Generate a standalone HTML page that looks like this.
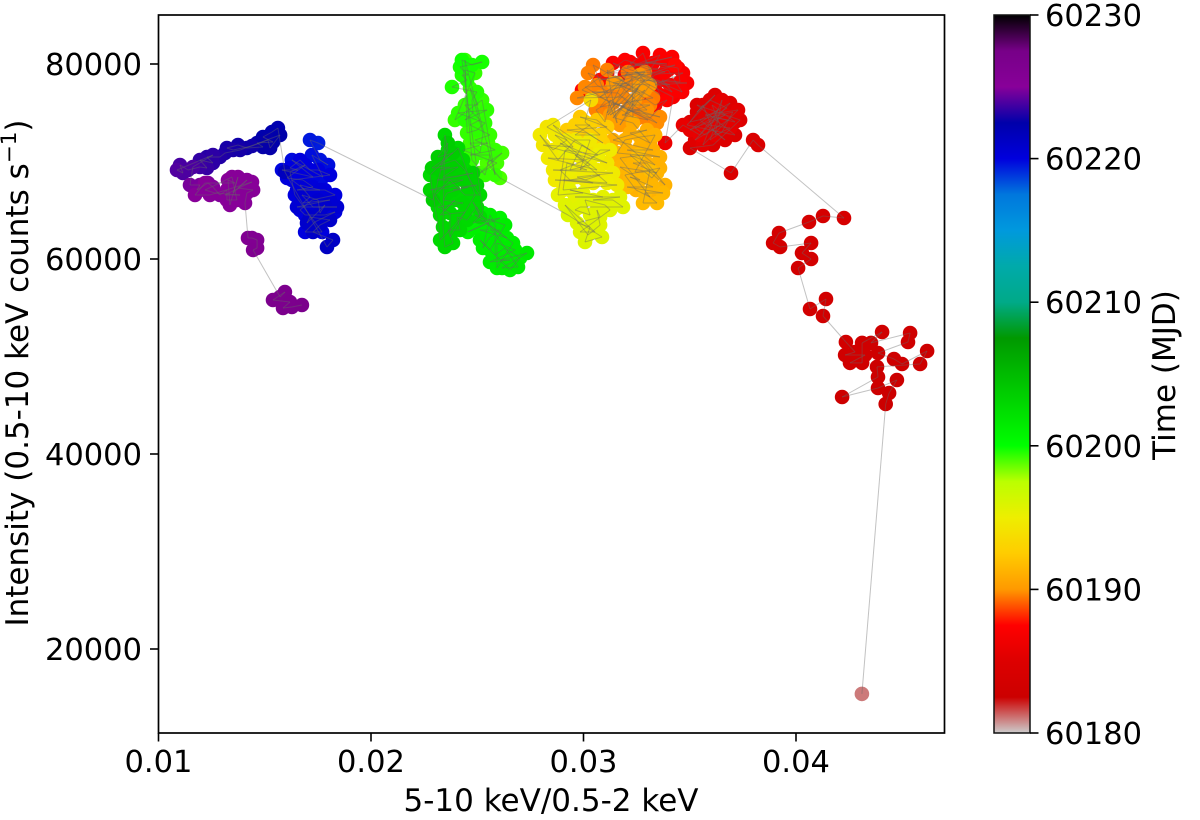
<!DOCTYPE html>
<html lang="en">
<head>
<meta charset="utf-8">
<title>Hardness-intensity diagram</title>
<style>
html,body{margin:0;padding:0;background:#fff;}
svg{display:block;}
text{font-family:"DejaVu Sans","Liberation Sans",sans-serif;fill:#000;}
</style>
</head>
<body>
<svg id="chart" xmlns="http://www.w3.org/2000/svg" width="1200" height="820" viewBox="0 0 1200 820">
  <defs><linearGradient id="cbar-grad" x1="0" y1="0" x2="0" y2="1"></linearGradient></defs>
  <rect x="158.5" y="15" width="786" height="718" fill="#fff"/>
  <g id="points"></g>
  <g id="links"></g>
  <rect x="158.5" y="15" width="786" height="718" fill="none" stroke="#000" stroke-width="1.7"/>
  <g id="x-axis"></g>
  <g id="y-axis"></g>
  <text x="551" y="811" font-size="31" text-anchor="middle">5-10 keV/0.5-2 keV</text>
  <text transform="translate(28,373) rotate(-90)" font-size="31" text-anchor="middle">Intensity (0.5-10 keV counts s<tspan dy="-12" font-size="21.5">−1</tspan><tspan dy="12">)</tspan></text>
  <rect x="994" y="15" width="36" height="718" fill="url(#cbar-grad)"/>
  <rect x="994" y="15" width="36" height="718" fill="none" stroke="#111" stroke-width="1.5"/>
  <g id="c-axis"></g>
  <text transform="translate(1175,375) rotate(-90)" font-size="31" text-anchor="middle">Time (MJD)</text>
</svg>
<script>
const xTicks = [0.01, 0.02, 0.03, 0.04];
const yTicks = [20000, 40000, 60000, 80000];
const timeTicks = [60180, 60190, 60200, 60210, 60220, 60230];

const hardnessRatio = [
  0.0431,
  0.04422,0.04438,0.04475,0.04386,0.04217,0.04386,0.04381,0.04584,0.04617,0.04499,
  0.04461,0.04386,0.04527,0.04537,0.04353,0.04405,0.04311,0.04311,0.04254,0.04325,
  0.04231,0.04278,0.04235,
  0.04127,0.04141,0.04066,0.04010,0.04071,0.04028,0.04071,0.03925,0.03892,0.03920,
  0.04061,0.04127,0.04226,
  0.03821,0.03798,0.03694,0.03501,0.03610,0.03737,0.03534,0.03713,0.03487,0.03619,
  0.03534,0.03595,0.03675,0.03605,0.03525,0.03572,0.03680,0.03633,0.03595,0.03652,
  0.03703,0.03501,0.03562,0.03610,
  0.03666,0.03548,0.03690,0.03525,0.03642,0.03605,0.03713,0.03572,0.03727,0.03562,
  0.03652,0.03619,0.03690,0.03586,0.03666,0.03501,0.03633,0.03548,0.03468,0.03384,
  0.03421,0.03266,0.03487,0.03337,0.03468,0.03195,0.03407,0.03139,0.03360,0.03280,
  0.03205,0.03327,0.03393,0.03289,0.03445,0.03454,0.03369,0.03417,0.03242,0.03464,
  0.03398,0.03337,0.03289,0.03219,
  0.03313,0.03360,0.03242,0.03417,0.03111,0.03384,0.03195,0.02993,0.03313,0.03393,
  0.03337,0.03266,0.03172,0.03431,0.03078,
  0.03289,0.03111,0.03209,0.03078,0.03327,0.03045,0.03158,0.03111,0.03266,0.03021,
  0.03063,0.03115,0.03040,0.03163,0.03219,0.03266,0.03313,0.03181,0.03257,0.03304,
  0.03125,0.03101,0.03059,0.03289,0.03139,0.03266,0.03115,0.03228,
  0.03233,0.03007,0.03219,0.02970,0.03186,0.03346,0.03139,0.03360,0.03205,0.03299,
  0.03158,0.03078,0.03266,0.03139,0.03313,0.03172,0.03242,0.03125,0.03289,0.03195,
  0.03257,0.03148,
  0.03233,0.03313,0.03219,0.03299,0.03139,0.03266,0.03327,0.03205,0.03360,0.03158,
  0.03195,0.03266,0.03337,0.03242,0.03289,0.03322,0.03360,0.03195,0.03247,0.03313,
  0.03172,0.03280,0.03337,0.03219,0.03384,
  0.03299,0.03233,0.03346,0.03172,0.03266,0.03219,0.03327,0.03205,0.03374,0.03289,
  0.03346,0.03280,0.03313,0.03257,
  0.03063,0.02984,0.03111,0.02922,0.03016,0.03092,0.02960,0.03031,0.02960,0.03078,0.03007,0.03035,
  0.02828,0.03031,0.02857,0.02951,0.02810,0.03111,0.02890,0.02998,0.02833,0.03063,
  0.02866,0.02922,0.02857,0.02795,0.02880,0.02960,0.03031,0.02984,0.03078,0.03125,
  0.02890,0.02936,0.03078,0.03007,0.02866,0.03158,0.02904,
  0.02922,0.03016,0.02857,0.03139,0.02970,0.03045,0.02904,0.03111,0.02960,0.03031,
  0.02936,0.02993,0.03068,0.02913,
  0.02880,0.02998,0.02936,0.03092,0.02960,0.03172,0.03045,0.03139,0.03186,0.02984,
  0.02960,0.03031,0.03007,0.03101,0.03125,0.02984,0.03054,0.02913,0.03021,0.03078,
  0.03063,0.03078,0.02970,0.03031,0.03007,0.03087,0.02927,
  0.02607,0.02546,0.02617,0.02513,0.02593,0.02433,0.02551,0.02466,0.02513,0.02527,
  0.02466,0.02504,0.02442,0.02513,0.02466,0.02560,0.02490,0.02584,0.02466,0.02560,
  0.02537,0.02475,0.02442,0.02490,0.02395,0.02523,0.02584,0.02442,
  0.02452,0.02499,0.02537,0.02410,0.02546,0.02442,0.02480,0.02475,0.02499,0.02381,
  0.02452,0.02428,0.02457,0.02419,0.02523,0.02475,0.02428,
  0.02527,0.02480,0.02607,0.02456,0.02546,0.02640,0.02513,0.02607,0.02560,0.02527,
  0.02560,0.02584,0.02584,0.02631,0.02701,0.02654,0.02513,0.02560,0.02631,0.02490,
  0.02668,0.02593,
  0.02593,0.02678,0.02560,0.02654,0.02607,0.02734,0.02617,0.02692,
  0.02480,0.02513,0.02499,0.02452,0.02405,0.02419,0.02362,0.02386,0.02348,0.02339,
  0.02348,0.02362,0.02325,0.02395,0.02442,0.02466,0.02513,0.02442,0.02372,0.02301,
  0.02348,0.02395,0.02325,0.02442,0.02395,0.02325,0.02278,0.02348,0.02410,0.02433,
  0.02490,0.02372,
  0.02372,0.02315,0.02433,0.02339,0.02358,0.02457,0.02386,0.02499,0.02278,0.02334,
  0.02433,0.02310,0.02480,0.02395,0.02339,0.02410,0.02325,0.02372,0.02287,0.02386,
  0.02315,0.02362,0.02292,
  0.01751,0.01713,0.01760,0.01798,0.01722,0.01774,0.01628,0.01727,0.01581,0.01656,
  0.01619,0.01666,0.01713,0.01751,0.01807,0.01628,0.01690,0.01783,0.01831,0.01722,
  0.01666,0.01690,0.01783,0.01831,0.01736,0.01690,0.01770,0.01642,0.01619,
  0.01690,0.01605,0.01680,0.01727,0.01652,0.01760,0.01666,0.01713,0.01680,0.01807,
  0.01652,0.01840,0.01727,0.01675,0.01751,0.01760,0.01783,0.01699,0.01713,0.01807,
  0.01760,0.01727,0.01821,0.01793,0.01595,
  0.01562,0.01534,0.01492,0.01539,0.01464,0.01492,0.01416,0.01374,0.01322,0.01351,
  0.01440,0.01515,0.01525,0.01572,0.01384,0.01313,
  0.01289,0.01228,0.01256,0.01195,0.01228,0.01195,0.01139,0.01101,0.01115,0.01087,
  0.01256,0.01162,
  0.01148,0.01195,0.01181,0.01233,0.01256,0.01289,0.01322,0.01322,0.01369,0.01346,
  0.01219,0.01266,0.01384,0.01313,0.01407,0.01440,0.01242,0.01172,0.01219,0.01360,
  0.01327,0.01336,
  0.01374,0.01351,0.01416,0.01374,0.01445,0.01416,0.01407,
  0.01421,0.01440,0.01464,0.01464,0.01445,
  0.01572,0.01595,0.01539,0.01619,0.01586,0.01628,0.01675
];

const intensityCounts = [
  15400,
  45130,46260,47590,46770,45850,47900,48930,49230,50560,49230,
  49740,50360,51490,52410,51390,52510,51390,49340,49340,50150,
  50150,50460,51490,
  54155,55899,54873,59078,60001,60616,61642,61232,61642,62668,
  63796,64411,64206,
  71693,72206,68821,71385,71693,74257,75795,72718,73744,76821,
  75077,76308,75487,74462,73436,72718,74257,74462,72206,73026,
  75077,74052,75795,73231,
  72206,74257,76000,72206,73744,75795,74052,74770,75283,71693,
  76308,72718,73437,73744,74770,73231,75283,72718,73744,71898,
  76615,78359,78052,77846,79077,78872,77846,80103,76821,81128,
  79692,80103,80000,80205,79590,78154,78359,77128,79180,77128,
  79385,78872,78154,80205,
  79385,80923,79898,80718,79077,79180,80411,77333,74462,76308,
  75795,76821,77846,79898,78359,
  79180,74975,79180,75590,76513,79898,73949,79385,77026,79077,
  77846,77128,77128,77026,75795,75795,75795,74770,74462,74257,
  76308,74052,75282,78359,74462,77846,74770,78565,
  74565,77641,77846,76513,76615,73949,76000,74565,75283,75283,
  78052,76615,78872,78052,77846,73744,76308,74770,77333,74770,
  77539,74462,
  73949,71898,72923,73231,72206,71488,71180,71180,70462,70872,
  72206,72513,72718,68924,68924,68308,69334,68616,67077,66360,
  70360,70667,69642,70667,67590,
  69847,69847,68821,69437,68103,68411,67385,67385,66770,66770,
  65744,65744,69129,70667,
  74257,74565,73539,73231,72923,71898,73744,73744,72718,72718,74052,76308,
  73539,71180,73744,71488,71693,69847,71898,70154,70359,69129,
  72718,72206,71180,72718,70154,72206,72206,69129,71180,71180,
  69129,68103,68616,68103,68103,67590,67077,
  69847,69129,69129,68821,68411,67795,68103,67795,70667,69642,
  69129,71693,70667,71180,
  66565,66770,67077,66359,66359,66359,66052,66052,65334,65334,
  65026,64514,66052,65539,65026,62770,62770,65539,62462,63488,
  65026,64309,63693,63283,61745,62258,64514,
  68308,69847,70872,68821,69847,71180,71898,71898,70872,72923,
  77539,75795,75795,74257,73744,72718,72206,71180,70667,70667,
  68616,70154,79385,79077,74257,76308,68616,80410,
  72923,73231,73949,74975,75283,74257,74975,76308,77129,77641,
  78359,78872,78872,79693,80205,79898,80411,
  64719,63693,64206,62770,63693,62155,62975,62975,62258,61129,
  64514,63488,60411,61129,60104,58873,61950,60924,63488,64514,
  61642,59078,
  61642,60924,59693,59898,59898,60616,59078,59180,
  65847,64309,65334,64001,64309,62975,62975,61642,61232,63283,
  72718,71180,69642,70154,69129,68103,66565,66565,68103,66565,
  65026,66052,64514,64821,63488,61950,68616,70154,71385,70154,
  66565,62258,
  64719,65334,65744,66052,66770,67385,67077,67590,67077,67385,
  68103,68103,68821,68411,68411,69437,69129,69437,69334,70872,
  70462,71898,66052,
  71898,72206,70154,69642,70667,68411,70154,68411,69129,69129,
  69334,70154,69129,69129,68616,68103,67077,67077,66565,66052,
  65026,64514,64514,64821,63796,62770,62770,66565,68924,
  69642,68308,68103,67385,67077,67077,67590,66359,65744,66052,
  65334,65334,65334,66564,66052,64719,65539,63693,64309,64001,
  63488,62770,61950,61232,68924,
  73436,73026,72513,72000,71898,71488,71385,71693,71385,71180,
  71590,72206,71385,72718,71180,70872,
  70462,70462,69847,70154,69334,69437,69129,69642,68821,69129,
  70667,69437,
  67590,67590,67077,67795,67385,66565,67077,66052,66052,68411,
  67077,66770,66565,66565,67590,67898,66565,66565,67795,67795,
  68103,65539,
  68411,66770,68103,67283,67077,66770,65744,
  62155,62155,61950,61129,60924,
  56104,56616,55796,55591,54975,55078,55283
];

const observationMjd = [
  60181.0,
  60182.5,60182.5,60182.5,60182.6,60182.6,60182.6,60182.7,60182.7,60182.7,60182.8,
  60182.8,60182.8,60182.9,60182.9,60182.9,60183.0,60183.0,60183.0,60183.1,60183.1,
  60183.1,60183.2,60183.2,
  60183.3,60183.3,60183.4,60183.4,60183.5,60183.5,60183.6,60183.6,60183.7,60183.7,
  60183.8,60183.8,60183.9,
  60184.4,60184.5,60184.6,60184.7,60184.7,60184.8,60184.8,60184.9,60184.9,60185.0,
  60185.0,60185.0,60185.0,60185.0,60185.0,60185.0,60185.0,60185.0,60185.0,60185.0,
  60185.0,60185.0,60185.0,60185.0,
  60185.0,60185.1,60185.1,60185.2,60185.2,60185.3,60185.3,60185.4,60185.4,60185.5,
  60185.5,60185.6,60185.6,60185.7,60185.7,60185.8,60185.8,60185.9,60185.9,60186.0,
  60186.8,60186.8,60186.9,60186.9,60187.0,60187.0,60187.0,60187.1,60187.1,60187.1,
  60187.1,60187.1,60187.1,60187.1,60187.1,60187.1,60187.1,60187.1,60187.1,60187.1,
  60187.1,60187.1,60187.1,60187.1,
  60187.2,60187.2,60187.2,60187.3,60187.3,60187.3,60187.4,60187.4,60187.4,60187.5,
  60187.5,60187.5,60187.6,60187.6,60187.7,
  60189.4,60189.4,60189.4,60189.5,60189.5,60189.5,60189.5,60189.6,60189.6,60189.6,
  60189.6,60189.6,60189.6,60189.6,60189.6,60189.6,60189.6,60189.6,60189.6,60189.6,
  60189.6,60189.6,60189.6,60189.6,60189.6,60189.6,60189.6,60189.6,
  60189.6,60189.7,60189.7,60189.7,60189.7,60189.8,60189.8,60189.8,60189.8,60189.9,
  60189.9,60189.9,60189.9,60190.0,60190.0,60190.0,60190.0,60190.1,60190.1,60190.1,
  60190.2,60190.2,
  60190.9,60190.9,60191.0,60191.0,60191.0,60191.1,60191.1,60191.1,60191.2,60191.2,
  60191.2,60191.2,60191.2,60191.2,60191.2,60191.2,60191.2,60191.2,60191.2,60191.2,
  60191.2,60191.2,60191.2,60191.2,60191.2,
  60191.2,60191.3,60191.3,60191.3,60191.4,60191.4,60191.4,60191.5,60191.5,60191.5,
  60191.6,60191.6,60191.7,60191.7,
  60192.2,60192.3,60192.4,60192.5,60192.6,60192.7,60192.8,60192.8,60192.8,60192.9,60192.9,60193.5,
  60194.3,60194.3,60194.4,60194.4,60194.4,60194.5,60194.5,60194.5,60194.6,60194.6,
  60194.6,60194.6,60194.6,60194.6,60194.6,60194.6,60194.6,60194.6,60194.6,60194.6,
  60194.6,60194.6,60194.6,60194.6,60194.6,60194.6,60194.6,
  60194.6,60194.7,60194.7,60194.7,60194.8,60194.8,60194.8,60194.9,60194.9,60194.9,
  60195.0,60195.0,60195.0,60195.1,
  60195.4,60195.4,60195.5,60195.5,60195.5,60195.6,60195.6,60195.6,60195.7,60195.7,
  60195.7,60195.7,60195.7,60195.7,60195.7,60195.7,60195.7,60195.7,60195.7,60195.7,
  60195.7,60195.8,60195.8,60195.8,60195.9,60195.9,60196.0,
  60199.0,60199.0,60199.1,60199.1,60199.1,60199.2,60199.2,60199.2,60199.3,60199.3,
  60199.3,60199.3,60199.3,60199.3,60199.3,60199.3,60199.3,60199.3,60199.3,60199.3,
  60199.3,60199.3,60199.3,60199.3,60199.3,60199.3,60199.3,60199.3,
  60199.3,60199.4,60199.4,60199.4,60199.4,60199.5,60199.5,60199.5,60199.5,60199.6,
  60199.6,60199.6,60199.6,60199.7,60199.7,60199.7,60199.8,
  60200.8,60200.9,60200.9,60201.0,60201.0,60201.1,60201.1,60201.2,60201.2,60201.3,
  60201.3,60201.3,60201.3,60201.3,60201.3,60201.3,60201.3,60201.3,60201.3,60201.3,
  60201.3,60201.3,
  60201.3,60201.4,60201.4,60201.5,60201.5,60201.6,60201.6,60201.7,
  60202.6,60202.6,60202.7,60202.7,60202.7,60202.8,60202.8,60202.8,60202.9,60202.9,
  60202.9,60202.9,60202.9,60202.9,60202.9,60202.9,60202.9,60202.9,60202.9,60202.9,
  60202.9,60202.9,60202.9,60202.9,60202.9,60202.9,60202.9,60202.9,60202.9,60202.9,
  60202.9,60202.9,
  60202.9,60203.0,60203.0,60203.0,60203.1,60203.1,60203.1,60203.2,60203.2,60203.2,
  60203.3,60203.3,60203.3,60203.4,60203.4,60203.4,60203.5,60203.5,60203.5,60203.6,
  60203.6,60203.7,60203.7,
  60219.4,60219.5,60219.6,60219.7,60219.7,60219.8,60219.8,60219.9,60219.9,60220.0,
  60220.0,60220.0,60220.0,60220.0,60220.0,60220.0,60220.0,60220.0,60220.0,60220.0,
  60220.0,60220.0,60220.0,60220.0,60220.0,60220.0,60220.0,60220.0,60220.0,
  60220.0,60220.1,60220.1,60220.2,60220.2,60220.3,60220.3,60220.4,60220.4,60220.5,
  60220.5,60220.6,60220.6,60220.7,60220.7,60220.8,60220.8,60220.9,60220.9,60221.0,
  60221.0,60221.1,60221.2,60221.3,60221.5,
  60222.2,60222.3,60222.4,60222.5,60222.6,60222.6,60222.7,60222.8,60222.9,60223.0,
  60222.8,60222.6,60222.6,60222.5,60222.9,60223.0,
  60223.1,60223.2,60223.3,60223.4,60223.5,60223.6,60223.7,60223.8,60223.9,60224.0,
  60223.3,60223.9,
  60224.7,60224.7,60224.8,60224.8,60224.9,60224.9,60225.0,60225.0,60225.0,60225.1,
  60225.1,60225.1,60225.1,60225.1,60225.1,60225.1,60225.1,60225.1,60225.1,60225.1,
  60225.1,60225.1,
  60225.1,60225.1,60225.2,60225.2,60225.2,60225.3,60225.3,
  60226.0,60226.0,60226.1,60226.1,60226.2,
  60226.6,60226.6,60226.7,60226.7,60226.8,60226.8,60226.9
];

const cmapRed = [0,.4667,.5333,0,0,0,0,0,0,0,0,0,0,.7333,.9333,1,1,1,.8667,.8,.8];
const cmapGreen = [0,0,0,0,0,.4667,.6,.6667,.6667,.6,.7333,.8667,1,1,.9333,.8,.6,0,0,0,.8];
const cmapBlue = [0,.5333,.6,.6667,.8667,.8667,.8667,.6667,.5333,0,0,0,0,0,0,0,0,0,0,0,.8];

const NS = 'http://www.w3.org/2000/svg';
const plot = {left:158.5, top:15, right:944.5, bottom:733};
const bar = {left:994, right:1030, top:15, bottom:733};

function xScale(v){ return plot.left + (v - 0.01) * 21250; }
function yScale(v){ return 64 + (80000 - v) * 0.00975; }
function timeScale(v){ return bar.bottom - (v - 60180) * (bar.bottom - bar.top) / 50; }
function channel(arr, pos){
  const i = Math.min(19, Math.floor(pos));
  const f = pos - i;
  return Math.round(255 * (arr[i] + (arr[i + 1] - arr[i]) * f));
}
function colorAtIndex(pos){
  return 'rgb(' + channel(cmapRed, pos) + ',' + channel(cmapGreen, pos) + ',' + channel(cmapBlue, pos) + ')';
}
function timeColor(t){
  const frac = Math.max(0, Math.min(1, (t - 60180) / 50));
  return colorAtIndex((1 - frac) * 20);
}
function make(tag, parent){
  const el = document.createElementNS(NS, tag);
  parent.appendChild(el);
  return el;
}

const grad = document.getElementById('cbar-grad');
for (let i = 0; i <= 20; i++) {
  const stop = make('stop', grad);
  stop.setAttribute('offset', (i / 20 * 100) + '%');
  stop.setAttribute('stop-color', colorAtIndex(i));
}

const pointCount = Math.min(hardnessRatio.length, intensityCounts.length, observationMjd.length);
const pointsGroup = document.getElementById('points');
const linksGroup = document.getElementById('links');
for (let i = 0; i < pointCount; i++) {
  const dot = make('circle', pointsGroup);
  
  
  dot.setAttribute('cx', xScale(hardnessRatio[i]).toFixed(1));
  dot.setAttribute('cy', yScale(intensityCounts[i]).toFixed(1));
  dot.setAttribute('r', '7.3');
  dot.setAttribute('fill', timeColor(observationMjd[i]));
}
for (let i = 0; i + 1 < pointCount; i++) {
  const seg = make('line', linksGroup);
  
  
  seg.setAttribute('x1', xScale(hardnessRatio[i]).toFixed(1));
  seg.setAttribute('y1', yScale(intensityCounts[i]).toFixed(1));
  seg.setAttribute('x2', xScale(hardnessRatio[i + 1]).toFixed(1));
  seg.setAttribute('y2', yScale(intensityCounts[i + 1]).toFixed(1));
  seg.setAttribute('stroke', '#666666');
  seg.setAttribute('stroke-opacity', '0.4');
  seg.setAttribute('stroke-width', '1');
}

const xAxis = document.getElementById('x-axis');
xTicks.forEach(function (v) {
  const tick = make('line', xAxis);
  
  
  tick.setAttribute('x1', xScale(v));
  tick.setAttribute('x2', xScale(v));
  tick.setAttribute('y1', plot.bottom);
  tick.setAttribute('y2', plot.bottom + 8.5);
  tick.setAttribute('stroke', '#000');
  tick.setAttribute('stroke-width', '1.6');
  const label = make('text', xAxis);
  
  
  label.setAttribute('x', xScale(v));
  label.setAttribute('y', 772);
  label.setAttribute('font-size', '30.5');
  label.setAttribute('text-anchor', 'middle');
  label.textContent = v.toFixed(2);
});

const yAxis = document.getElementById('y-axis');
yTicks.forEach(function (v) {
  const tick = make('line', yAxis);
  
  
  tick.setAttribute('x1', plot.left - 8.5);
  tick.setAttribute('x2', plot.left);
  tick.setAttribute('y1', yScale(v));
  tick.setAttribute('y2', yScale(v));
  tick.setAttribute('stroke', '#000');
  tick.setAttribute('stroke-width', '1.6');
  const label = make('text', yAxis);
  
  
  label.setAttribute('x', 142);
  label.setAttribute('y', yScale(v) + 11);
  label.setAttribute('font-size', '30.5');
  label.setAttribute('text-anchor', 'end');
  label.textContent = String(v);
});

const cAxis = document.getElementById('c-axis');
timeTicks.forEach(function (v) {
  const tick = make('line', cAxis);
  
  
  tick.setAttribute('x1', bar.right);
  tick.setAttribute('x2', bar.right + 8.5);
  tick.setAttribute('y1', timeScale(v));
  tick.setAttribute('y2', timeScale(v));
  tick.setAttribute('stroke', '#000');
  tick.setAttribute('stroke-width', '1.6');
  const label = make('text', cAxis);
  
  
  label.setAttribute('x', 1045);
  label.setAttribute('y', timeScale(v) + 11);
  label.setAttribute('font-size', '30.5');
  label.textContent = String(v);
});
</script>
</body>
</html>
